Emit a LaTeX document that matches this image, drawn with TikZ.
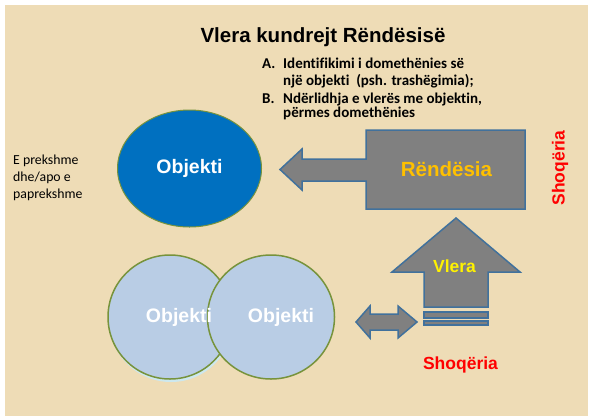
\documentclass[tikz,border=0pt]{standalone}
\usepackage{fontspec}
\setmainfont{Liberation Sans}
\newfontfamily\calibri[Ligatures=NoCommon]{Carlito}
\definecolor{bg}{HTML}{EEDCB6}
\definecolor{objblue}{HTML}{0070C0}
\definecolor{lightobj}{HTML}{B9CDE5}
\definecolor{olive}{HTML}{77933C}
\definecolor{arrgray}{HTML}{808080}
\definecolor{arrline}{HTML}{41719C}
\definecolor{gold}{HTML}{FFC000}
\definecolor{shadowc}{HTML}{CDE8EE}
\tikzset{
  grayarrow/.style={fill=arrgray, draw=arrline, line width=1.5pt, line join=miter},
  objtext/.style={text=white, font=\bfseries\fontsize{19.5}{22}\selectfont},
  listtext/.style={anchor=base west, font=\calibri\bfseries\fontsize{15}{17}\selectfont, inner sep=0pt},
  sidetext/.style={anchor=base west, font=\calibri\fontsize{13.8}{16}\selectfont, inner sep=0pt},
  redtext/.style={text=red, font=\bfseries\fontsize{17.5}{20}\selectfont, inner sep=0pt}
}
\begin{document}
\begin{tikzpicture}[x=1pt,y=-1pt]
\useasboundingbox (0,0) rectangle (593,418);
\fill[bg] (5,5) rectangle (588,416);

% title
\node[anchor=base, font=\bfseries\fontsize{20.5}{24}\selectfont, inner sep=0pt] (title) at (323,42) {Vlera kundrejt Rëndësisë};

% list
\node[listtext] (la) at (262,68) {A.};
\node[listtext] (la1) at (283,68) {Identifikimi i\ domethënies\ së};
\node[listtext] (la2) at (283,85.5) {një objekti\ \ (psh. trashëgimia);};
\node[listtext] (lb) at (262,103) {B.};
\node[listtext] (lb1) at (283,103) {Ndërlidhja e vlerës me objektin,};
\node[listtext] (lb2) at (283,117) {përmes domethënies};

% side text
\node[sidetext] (s1) at (13,164) {E prekshme};
\node[sidetext] (s2) at (13,181) {dhe/apo e};
\node[sidetext] (s3) at (13,198) {paprekshme};

% top object
\fill[objblue, draw=olive, line width=1pt] (189.5,168.5) ellipse [x radius=72pt, y radius=58.5pt];
\node[objtext] (obj1) at (189.5,168.5) {Objekti};

% bottom objects
\fill[shadowc] (171,320) ellipse [x radius=62pt, y radius=62pt];
\filldraw[fill=lightobj, draw=olive, line width=1.5pt] (170,317) ellipse [x radius=62pt, y radius=62pt];
\filldraw[fill=lightobj, draw=olive, line width=1.5pt] (271,317) ellipse [x radius=63.5pt, y radius=62pt];
\node[objtext] (obj2) at (179,317) {Objekti};
\node[objtext] (obj3) at (281,317) {Objekti};

% Rendesia callout arrow
\draw[grayarrow] (366,130) -- (525,130) -- (525,209) -- (366,209) -- (366,181) -- (302,181) -- (302,190) -- (280,169.5) -- (302,149) -- (302,159) -- (366,159) -- cycle;
\node[text=gold, font=\bfseries\fontsize{20.5}{24}\selectfont] (rend) at (446.5,169) {Rëndësia};

% Vlera up arrow
\draw[grayarrow] (456,218) -- (520,272) -- (488,272) -- (488,307) -- (424,307) -- (424,272) -- (392,272) -- cycle;
\draw[grayarrow] (424,312) rectangle (488,318);
\draw[grayarrow] (424,321) rectangle (488,325);
\node[text=yellow, font=\bfseries\fontsize{17.5}{20}\selectfont] (vlera) at (454.5,266) {Vlera};

% double arrow
\draw[grayarrow] (356,322) -- (370,306) -- (370,314) -- (398,314) -- (398,306) -- (417,322) -- (398,338) -- (398,330) -- (370,330) -- (370,338) -- cycle;

% Shoqeria labels
\node[redtext, rotate=90] (shq1) at (560,168) {Shoqëria};
\node[redtext, anchor=base] (shq2) at (460.5,369) {Shoqëria};
\end{tikzpicture}
\end{document}
